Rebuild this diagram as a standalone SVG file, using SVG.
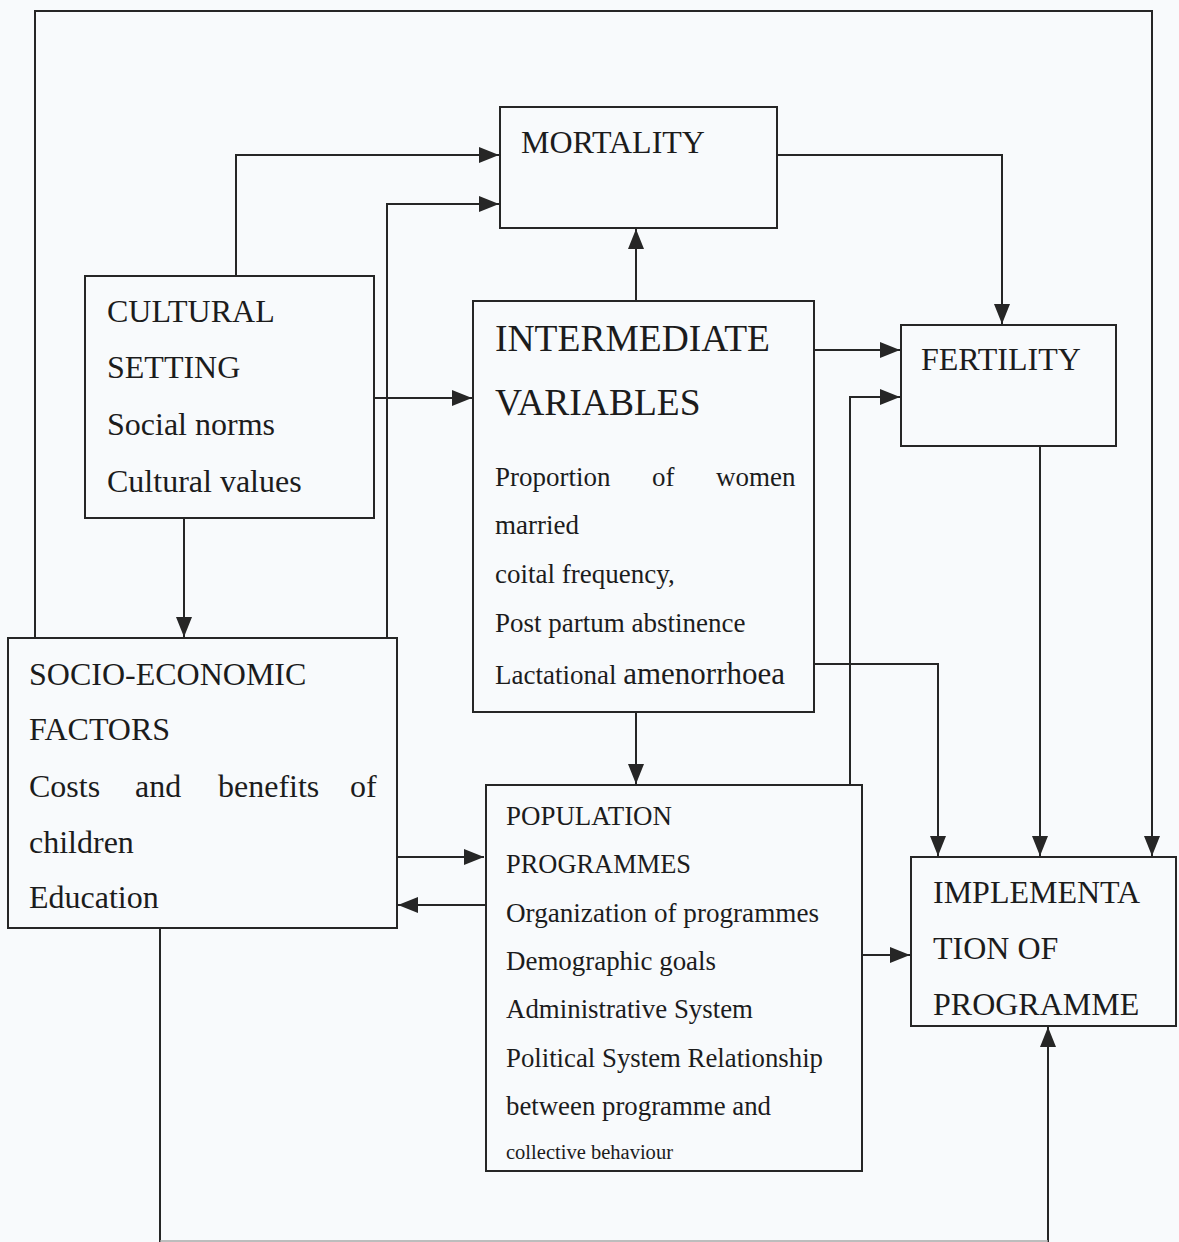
<svg xmlns="http://www.w3.org/2000/svg" width="1179" height="1242" viewBox="0 0 1179 1242">
<style>
.box{fill:none;stroke:#262626;stroke-width:2}
.ln{fill:none;stroke:#262626;stroke-width:2}
.t{font-family:"Liberation Serif","Times New Roman",serif;fill:#1c1c1c}
.h{font-size:32px}
.hb{font-size:37.5px}
.b{font-size:27px}
</style>
<defs>
<marker id="ar" markerUnits="userSpaceOnUse" markerWidth="20" markerHeight="16" refX="20" refY="8" orient="auto">
<path d="M0,0 L20,8 L0,16 z" fill="#262626"/>
</marker>
</defs>
<rect width="1179" height="1242" fill="#f8fafc"/>
<g id="connectors">
<path class="ln" d="M35,638 V11 H1152 V856" marker-end="url(#ar)"/>
<path class="ln" d="M236,276 V155 H499" marker-end="url(#ar)"/>
<path class="ln" d="M387,638 V204 H499" marker-end="url(#ar)"/>
<path class="ln" d="M374,398 H472" marker-end="url(#ar)"/>
<path class="ln" d="M184,518 V637" marker-end="url(#ar)"/>
<path class="ln" d="M636,301 V229" marker-end="url(#ar)"/>
<path class="ln" d="M777,155 H1002 V324" marker-end="url(#ar)"/>
<path class="ln" d="M814,350 H900" marker-end="url(#ar)"/>
<path class="ln" d="M850,785 V397 H900" marker-end="url(#ar)"/>
<path class="ln" d="M814,664 H938 V856" marker-end="url(#ar)"/>
<path class="ln" d="M1040,446 V856" marker-end="url(#ar)"/>
<path class="ln" d="M636,712 V784" marker-end="url(#ar)"/>
<path class="ln" d="M397,857 H484" marker-end="url(#ar)"/>
<path class="ln" d="M485,905 H398" marker-end="url(#ar)"/>
<path class="ln" d="M862,955 H910" marker-end="url(#ar)"/>
<path class="ln" d="M1048,1242 V1027" marker-end="url(#ar)"/>
<path class="ln" d="M160,928 V1242"/>
<path d="M160,1241 H1048" fill="none" stroke="#a8a8a8" stroke-width="1.5"/>
</g>
<g id="mortality">
<rect class="box" x="500" y="107" width="277" height="121"/>
<text class="t h" x="521" y="153">MORTALITY</text>
</g>
<g id="cultural">
<rect class="box" x="85" y="276" width="289" height="242"/>
<text class="t h" x="107" y="322">CULTURAL</text>
<text class="t h" x="107" y="378">SETTING</text>
<text class="t h" x="107" y="435">Social norms</text>
<text class="t h" x="107" y="492">Cultural values</text>
</g>
<g id="intermediate">
<rect class="box" x="473" y="301" width="341" height="411"/>
<text class="t hb" x="495" y="351">INTERMEDIATE</text>
<text class="t hb" x="495" y="415">VARIABLES</text>
<text class="t b" x="495" y="486">Proportion</text>
<text class="t b" x="652" y="486">of</text>
<text class="t b" x="716" y="486">women</text>
<text class="t b" x="495" y="534">married</text>
<text class="t b" x="495" y="583">coital frequency,</text>
<text class="t b" x="495" y="632">Post partum abstinence</text>
<text class="t b" x="495" y="684">Lactational <tspan font-size="31">amenorrhoea</tspan></text>
</g>
<g id="fertility">
<rect class="box" x="901" y="325" width="215" height="121"/>
<text class="t h" x="921" y="370">FERTILITY</text>
</g>
<g id="socio-economic">
<rect class="box" x="8" y="638" width="389" height="290"/>
<text class="t h" x="29" y="685">SOCIO-ECONOMIC</text>
<text class="t h" x="29" y="740">FACTORS</text>
<text class="t h" x="29" y="797">Costs</text>
<text class="t h" x="135" y="797">and</text>
<text class="t h" x="218" y="797">benefits</text>
<text class="t h" x="350" y="797">of</text>
<text class="t h" x="29" y="853">children</text>
<text class="t h" x="29" y="908">Education</text>
</g>
<g id="population">
<rect class="box" x="486" y="785" width="376" height="386"/>
<text class="t b" x="506" y="825" textLength="166" lengthAdjust="spacingAndGlyphs">POPULATION</text>
<text class="t b" x="506" y="873" textLength="185" lengthAdjust="spacingAndGlyphs">PROGRAMMES</text>
<text class="t b" x="506" y="922" textLength="313" lengthAdjust="spacingAndGlyphs">Organization of programmes</text>
<text class="t b" x="506" y="970" textLength="210" lengthAdjust="spacingAndGlyphs">Demographic goals</text>
<text class="t b" x="506" y="1018" textLength="247" lengthAdjust="spacingAndGlyphs">Administrative System</text>
<text class="t b" x="506" y="1067" textLength="317" lengthAdjust="spacingAndGlyphs">Political System Relationship</text>
<text class="t b" x="506" y="1115" textLength="265" lengthAdjust="spacingAndGlyphs">between programme and</text>
<text class="t" font-size="20" x="506" y="1159" textLength="167" lengthAdjust="spacingAndGlyphs">collective behaviour</text>
</g>
<g id="implementation">
<rect class="box" x="911" y="857" width="265" height="169"/>
<text class="t h" x="933" y="903">IMPLEMENTA</text>
<text class="t h" x="933" y="959">TION OF</text>
<text class="t h" x="933" y="1015">PROGRAMME</text>
</g>
</svg>
